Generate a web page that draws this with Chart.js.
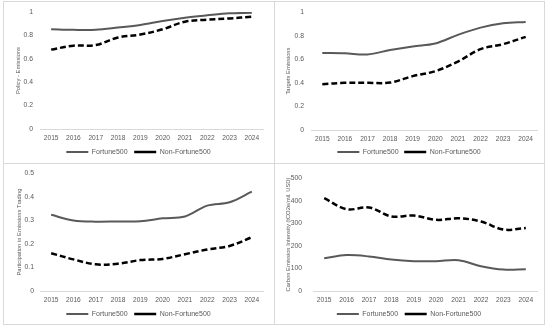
<!DOCTYPE html>
<html>
<head>
<meta charset="utf-8">
<script src="https://cdn.jsdelivr.net/npm/chart.js@4"></script>
<style>
  html, body { margin: 0; padding: 0; background: #fff; }
  body { width: 550px; height: 328px; position: relative; overflow: hidden; }
  .frame { position: absolute; border: 1px solid #d9d9d9; box-sizing: border-box; pointer-events: none; }
  canvas { position: absolute; }
</style>
</head>
<body>
<div class="frame" style="left:3px;top:1px;width:272px;height:163px"></div>
<div class="frame" style="left:274px;top:1px;width:271px;height:163px"></div>
<div class="frame" style="left:3px;top:163px;width:272px;height:162px"></div>
<div class="frame" style="left:274px;top:163px;width:271px;height:162px"></div>
<canvas id="c1" width="271" height="162" style="left:3px;top:1px"></canvas>
<canvas id="c2" width="270" height="162" style="left:274px;top:1px"></canvas>
<canvas id="c3" width="271" height="161" style="left:3px;top:163px"></canvas>
<canvas id="c4" width="270" height="161" style="left:274px;top:163px"></canvas>
<script>
const years = ['2015','2016','2017','2018','2019','2020','2021','2022','2023','2024'];
const seriesNames = ['Fortune500', 'Non-Fortune500'];

const policyFortune    = [0.853, 0.848, 0.849, 0.868, 0.890, 0.924, 0.952, 0.972, 0.989, 0.994];
const policyNonFortune = [0.679, 0.713, 0.718, 0.783, 0.808, 0.853, 0.918, 0.935, 0.946, 0.960];

const targetsFortune    = [0.653, 0.650, 0.641, 0.678, 0.709, 0.734, 0.807, 0.868, 0.905, 0.916];
const targetsNonFortune = [0.389, 0.400, 0.400, 0.402, 0.457, 0.499, 0.580, 0.686, 0.728, 0.790];

const tradingFortune    = [0.323, 0.299, 0.294, 0.295, 0.296, 0.308, 0.316, 0.362, 0.376, 0.421];
const tradingNonFortune = [0.160, 0.134, 0.113, 0.116, 0.131, 0.136, 0.156, 0.176, 0.191, 0.228];

const intensityFortune    = [145, 159, 153, 139, 132, 132, 136, 110, 95, 96];
const intensityNonFortune = [411, 362, 370, 330, 334, 315, 322, 308, 272, 279];

const axisTitles = [
  'Policy - Emissions',
  'Targets Emissions',
  'Participation in Emissions Trading',
  'Carbon Emission Intensity (tCO2e/mil. USD)'
];
const yMax  = [1, 1, 0.5, 500];
const yStep = [0.2, 0.2, 0.1, 100];

const FONT = '"Liberation Sans", Arial, sans-serif';
const TXT = '#595959';
const XFONT = 6.6, XPAD = 5, LFONT = 7;

function makeChart(id, idx, fortune, nonFortune, L) {
  const W = L.W, H = L.H;
  const xH = XPAD + XFONT * 1.2;
  const pLeg = L.legendY - L.bottom - xH - LFONT / 2;
  const legendH = LFONT + pLeg + 10;
  const pb = H - (L.bottom + xH + legendH);
  new Chart(document.getElementById(id), {
    type: 'line',
    data: {
      labels: years,
      datasets: [
        { label: seriesNames[0], data: fortune, borderColor: '#595959', backgroundColor: '#595959',
          borderWidth: 2, pointRadius: 0, tension: 0.35, fill: false },
        { label: seriesNames[1], data: nonFortune, borderColor: '#000000', backgroundColor: '#000000',
          borderWidth: 2.5, borderDash: [6, 3], pointRadius: 0, tension: 0.35, fill: false }
      ]
    },
    options: {
      responsive: false,
      animation: false,
      devicePixelRatio: 1,
      layout: { padding: { top: L.top, left: 0, right: 0, bottom: pb } },
      plugins: {
        tooltip: { enabled: false },
        legend: {
          position: 'bottom',
          labels: {
            usePointStyle: true, pointStyle: 'line', pointStyleWidth: 22,
            padding: pLeg, color: TXT, font: { family: FONT, size: LFONT }
          }
        }
      },
      scales: {
        x: {
          offset: true,
          grid: { display: false, drawTicks: false },
          border: { display: true, color: '#d9d9d9', width: 1 },
          ticks: { color: TXT, font: { family: FONT, size: XFONT }, padding: XPAD, maxRotation: 0, autoSkip: false },
          afterFit: s => { s.height = xH; }
        },
        y: {
          min: 0, max: yMax[idx],
          grid: { display: false, drawTicks: false },
          border: { display: false },
          ticks: { stepSize: yStep[idx], color: TXT, font: { family: FONT, size: 6.8 }, padding: L.tickPad,
                   callback: v => String(Math.round(v * 1000) / 1000) },
          title: { display: true, text: axisTitles[idx], color: TXT, font: { family: FONT, size: 5.8 },
                   padding: { top: L.titleOff - 3.5, bottom: 0 } },
          afterFit: s => { s.width = L.left; }
        },
        yr: {
          position: 'right', display: true,
          grid: { display: false, drawTicks: false },
          border: { display: false },
          ticks: { display: false },
          afterFit: s => { s.width = W - L.right; }
        }
      }
    }
  });
}

makeChart('c1', 0, policyFortune, policyNonFortune,
  { W: 271, H: 162, left: 37, right: 260, top: 10, bottom: 128, legendY: 151, titleOff: 15, tickPad: 7 });
makeChart('c2', 1, targetsFortune, targetsNonFortune,
  { W: 270, H: 162, left: 37, right: 263, top: 10, bottom: 129, legendY: 151, titleOff: 14, tickPad: 7 });
makeChart('c3', 2, tradingFortune, tradingNonFortune,
  { W: 271, H: 161, left: 37, right: 260, top: 8, bottom: 128, legendY: 151, titleOff: 16, tickPad: 6 });
makeChart('c4', 3, intensityFortune, intensityNonFortune,
  { W: 270, H: 161, left: 39, right: 263, top: 8, bottom: 128, legendY: 151, titleOff: 14, tickPad: 11 });
</script>
</body>
</html>
